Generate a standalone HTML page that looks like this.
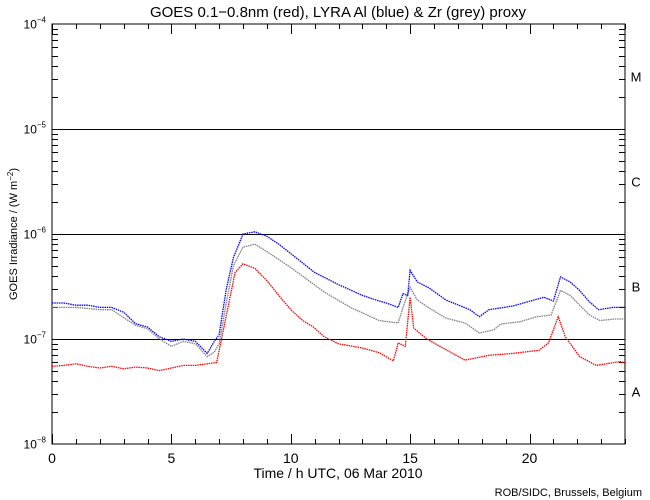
<!DOCTYPE html>
<html><head><meta charset="utf-8"><style>
html,body{margin:0;padding:0;background:#fff;}
svg{display:block;font-family:"Liberation Sans",sans-serif;}
</style></head><body>
<svg id="chart" width="650" height="500" viewBox="0 0 650 500">
<text x="338" y="17" text-anchor="middle" font-size="15">GOES 0.1−0.8nm (red), LYRA Al (blue) &amp; Zr (grey) proxy</text>
<g id="axes"></g>
<g id="series"></g>
<text x="338" y="478" text-anchor="middle" font-size="14">Time / h UTC, 06 Mar 2010</text>
<text transform="translate(17,234) rotate(-90)" text-anchor="middle" font-size="11">GOES Irradiance / (W m<tspan dy="-4" font-size="8">−2</tspan><tspan dy="4">)</tspan></text>
<text x="642" y="496" text-anchor="end" font-size="11">ROB/SIDC, Brussels, Belgium</text>
</svg>
<script>
const xTicks=[0,5,10,15,20];
const decades=[-8,-7,-6,-5,-4];
const classLabels=['A','B','C','M'];
const classDecades=[-8,-7,-6,-5];
const blueT=[0,0.5,1,1.5,2,2.5,3,3.5,4,4.5,5,5.5,6,6.5,6.8,7.0,7.3,7.6,8.0,8.5,9,9.5,10,10.5,11,12,13,13.7,14,14.5,14.7,14.9,15.0,15.3,15.8,16.5,17.5,17.9,18.3,19.3,20.6,21.0,21.3,21.7,22.1,22.5,22.9,23.5,24];
const blueV=[2.2e-7,2.2e-7,2.1e-7,2.1e-7,2.0e-7,2.0e-7,1.8e-7,1.4e-7,1.3e-7,1.05e-7,0.95e-7,1.0e-7,0.95e-7,0.73e-7,0.95e-7,1.1e-7,3e-7,6e-7,1.0e-6,1.05e-6,9.5e-7,8e-7,6.5e-7,5.3e-7,4.3e-7,3.3e-7,2.6e-7,2.3e-7,2.2e-7,2.0e-7,2.7e-7,2.6e-7,4.5e-7,3.5e-7,3.06e-7,2.35e-7,1.9e-7,1.63e-7,1.9e-7,2.06e-7,2.5e-7,2.3e-7,3.9e-7,3.5e-7,2.9e-7,2.27e-7,1.9e-7,2.0e-7,2.0e-7];
const greyT=[0,0.5,1,1.5,2,2.5,3,3.5,4,4.5,5,5.5,6,6.5,6.8,7.0,7.3,7.6,8.0,8.5,9,10,11.4,12.5,13.7,14.5,14.7,15.0,15.3,15.8,16.5,17.3,17.9,18.5,18.8,19.6,20.3,20.9,21.3,21.7,22.5,22.95,23.6,24];
const greyV=[2.0e-7,2.0e-7,2.0e-7,1.95e-7,1.9e-7,1.9e-7,1.6e-7,1.35e-7,1.25e-7,1.0e-7,0.85e-7,0.95e-7,0.9e-7,0.68e-7,0.75e-7,0.9e-7,2.2e-7,5e-7,7.5e-7,8.0e-7,6.8e-7,4.8e-7,2.8e-7,2.0e-7,1.5e-7,1.42e-7,2.0e-7,3.1e-7,2.35e-7,1.97e-7,1.58e-7,1.42e-7,1.14e-7,1.22e-7,1.39e-7,1.46e-7,1.63e-7,1.69e-7,2.9e-7,2.6e-7,1.7e-7,1.5e-7,1.55e-7,1.55e-7];
const redT=[0,0.5,1,1.5,2,2.5,3,3.5,4,4.5,5,5.5,6,6.5,6.9,7.67,8.0,8.5,9,9.5,10,10.5,10.95,11.4,12,13,13.7,14.3,14.5,14.8,15.0,15.15,15.7,16.5,17.3,18.3,19.3,20.4,20.8,21.2,21.5,22.1,22.8,23.8,24];
const redV=[5.5e-8,5.6e-8,5.8e-8,5.5e-8,5.3e-8,5.5e-8,5.2e-8,5.4e-8,5.3e-8,5.0e-8,5.3e-8,5.6e-8,5.6e-8,5.8e-8,6.0e-8,4.3e-7,5.2e-7,4.7e-7,3.6e-7,2.6e-7,1.9e-7,1.5e-7,1.3e-7,1.05e-7,9e-8,8.2e-8,7.4e-8,6.2e-8,9.2e-8,8.5e-8,2.5e-7,1.27e-7,1.0e-7,7.9e-8,6.3e-8,7.0e-8,7.3e-8,7.8e-8,9.2e-8,1.63e-7,1.05e-7,6.8e-8,5.6e-8,6.1e-8,5.9e-8];

const NS='http://www.w3.org/2000/svg';
const L=52,R=625,T=24,B=444;
function xs(t){return L+(R-L)*t/24;}
function ys(v){return B-(Math.log10(v)+8)*(B-T)/4;}
const axes=document.getElementById('axes');
function mk(tag,attrs,parent){const e=document.createElementNS(NS,tag);for(const k in attrs)e.setAttribute(k,attrs[k]);parent.appendChild(e);return e;}
const frame=mk('rect',{x:L,y:T,width:R-L,height:B-T,fill:'none',stroke:'#000','stroke-width':1},axes);


for(let h=0;h<=24;h++){
  const len=h%5===0?10:5;const x=Math.round(xs(h))+0.5;
  const t1=mk('line',{x1:x,y1:B,x2:x,y2:B-len,stroke:'#000'},axes);
  
  
  const t2=mk('line',{x1:x,y1:T,x2:x,y2:T+len,stroke:'#000'},axes);
  
  
}
xTicks.forEach(h=>{
  const tx=mk('text',{x:xs(h),y:463,'text-anchor':'middle','font-size':14},axes);
  tx.textContent=String(h);
  
  
});
decades.forEach(d=>{
  const y=Math.round(ys(Math.pow(10,d)))+0.5;
  if(d>-8&&d<-4){
    const gl=mk('line',{x1:L,y1:y,x2:R,y2:y,stroke:'#000'},axes);
    
    
  }
  const lb=mk('text',{x:46,y:y+4,'text-anchor':'end','font-size':12},axes);
  lb.innerHTML='10<tspan dy="-6" font-size="8">'+(d===-8?'−8':'−'+(-d))+'</tspan>';
  
  
  if(d<-4){for(let m=2;m<=9;m++){
    const yy=Math.round(ys(m*Math.pow(10,d)))+0.5;
    const a=mk('line',{x1:L,y1:yy,x2:L+6,y2:yy,stroke:'#000'},axes);
    
    
    const b=mk('line',{x1:R,y1:yy,x2:R-6,y2:yy,stroke:'#000'},axes);
    
    
  }}
});
classLabels.forEach((c,i)=>{
  const d=classDecades[i];
  const y=(ys(Math.pow(10,d))+ys(Math.pow(10,d+1)))/2;
  const tx=mk('text',{x:636,y:y+5,'text-anchor':'middle','font-size':13},axes);
  tx.textContent=c;
  
  
});
const ser=document.getElementById('series');
function draw(ts,vs,color,name){
  const pts=ts.map((t,i)=>xs(t).toFixed(1)+','+ys(vs[i]).toFixed(1)).join(' ');
  const p=mk('polyline',{points:pts,fill:'none',stroke:color,'stroke-width':1.3,'stroke-dasharray':'1.5 0.8'},ser);
  
  
}
draw(greyT,greyV,'#808080','zr-grey-series');
draw(blueT,blueV,'#0000ff','al-blue-series');
draw(redT,redV,'#ff0000','goes-red-series');
</script>
</body></html>
